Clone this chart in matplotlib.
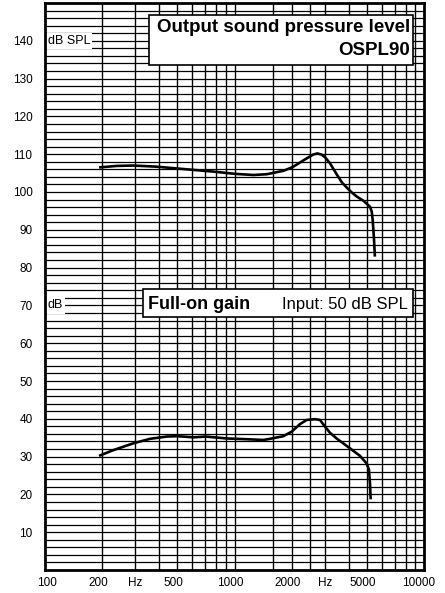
import numpy as np
import matplotlib
matplotlib.use("Agg")
import matplotlib.pyplot as plt
from matplotlib.patches import Rectangle
from matplotlib.transforms import ScaledTranslation, blended_transform_factory

# ---- data ----
ospl_freq = [193, 239, 292, 388, 559, 773, 1006, 1257, 1479, 1811, 1963, 2043, 2405,
             2600, 2735, 2880, 3004, 3191, 3458, 3680, 3906, 4150, 4418, 4782, 5188, 5300, 5361, 5450, 5506]
ospl_db = [106.5, 106.9, 107.0, 106.7, 106.0, 105.4, 104.8, 104.5, 104.7, 105.6, 106.3, 106.7, 108.9,
           109.9, 110.2, 109.9, 109.2, 107.6, 104.7, 102.6, 101.2, 99.9, 98.8, 97.7, 96.1, 94.8, 92.6, 87.3, 82.9]

gain_freq = [193, 229, 292, 358, 439, 500, 607, 705, 910, 1159, 1420, 1538, 1811, 2004,
             2216, 2405, 2661, 2827, 3006, 3191, 3458, 4065, 4592, 4982, 5125, 5188, 5232]
gain_db = [30.2, 31.7, 33.5, 34.7, 35.3, 35.4, 35.1, 35.3, 34.8, 34.6, 34.4, 34.7, 35.4, 36.6,
           38.6, 39.7, 39.9, 39.7, 37.9, 36.3, 34.8, 32.2, 30.2, 28.2, 26.5, 22.9, 18.7]

x_grid = [200, 300, 400, 500, 600, 700, 800, 900, 1000, 1600, 2000, 2500, 3000,
          4000, 5000, 6000, 7000, 8000, 9000]
x_ticks = [100, 200, 300, 500, 1000, 2000, 3000, 5000, 10000]
x_labels = ["100", "200", "Hz", "500", "1000", "2000", "Hz", "5000", "10000"]
y_ticks = list(range(10, 141, 10))
y_grid = list(range(2, 150, 2))

W, H = 445, 593
fig = plt.figure(figsize=(W / 100, H / 100), dpi=100)
plt.rcParams['font.family'] = ['Liberation Sans', 'DejaVu Sans']

L, R, T, B = 45, 424, 3, 570
ax = fig.add_axes([L / W, (H - B) / H, (R - L) / W, (B - T) / H])
ax.set_xscale('log')
ax.set_xlim(100, 10000)
ax.set_ylim(0, 150)

for yv in y_grid:
    ax.axhline(yv, color='black', lw=0.9, zorder=1)
for xv in x_grid:
    ax.axvline(xv, color='black', lw=1.0, zorder=1)

ax.plot(ospl_freq, ospl_db, color='black', lw=1.9, zorder=5, solid_capstyle='butt',
        solid_joinstyle='round')
ax.plot(gain_freq, gain_db, color='black', lw=1.9, zorder=5, solid_capstyle='butt',
        solid_joinstyle='round')

ax.set_xticks(x_ticks)
ax.set_xticklabels(x_labels, fontsize=8.5)
ax.xaxis.set_minor_locator(matplotlib.ticker.NullLocator())
ax.set_yticks(y_ticks)
ax.set_yticklabels([str(v) for v in y_ticks], fontsize=8.5)
ax.tick_params(axis='both', length=0)
ax.tick_params(axis='y', pad=9)
ax.tick_params(axis='x', pad=5)
for lab, txt in zip(ax.get_xticklabels(), x_labels):
    dx = 0 if txt == "Hz" else -4
    if txt == "100":
        dx = 2
    if txt == "10000":
        dx = -5
    lab.set_transform(lab.get_transform() + ScaledTranslation(dx / 100, 0, fig.dpi_scale_trans))

for s in ax.spines.values():
    s.set_linewidth(2.0)
    s.set_zorder(10)

def fx(px):
    return px / W

def fy(py):
    return (H - py) / H

# Output box
fig.patches.append(Rectangle((fx(149), fy(65)), (413 - 149) / W, (65 - 15) / H,
                             transform=fig.transFigure, facecolor='white',
                             edgecolor='black', lw=1.2, zorder=20))
fig.text(fx(410), fy(32), "Output sound pressure level", ha='right', va='baseline',
         fontsize=13.5, fontweight='bold', zorder=21)
fig.text(fx(410), fy(55), "OSPL90", ha='right', va='baseline',
         fontsize=13.5, fontweight='bold', zorder=21)

# Gain box
fig.patches.append(Rectangle((fx(143), fy(317)), (413 - 143) / W, (317 - 289) / H,
                             transform=fig.transFigure, facecolor='white',
                             edgecolor='black', lw=1.2, zorder=20))
fig.text(fx(147.5), fy(309), "Full-on gain", ha='left', va='baseline',
         fontsize=13, fontweight='bold', zorder=21)
fig.text(fx(408), fy(309), "Input: 50 dB SPL", ha='right', va='baseline',
         fontsize=12, zorder=21)

# unit labels
tr = blended_transform_factory(ax.transAxes, ax.transData)
ax.text(2.5 / (R - L), 140, "dB SPL", transform=tr, ha='left', va='center', fontsize=9,
        zorder=8, bbox=dict(facecolor='white', edgecolor='none', pad=1.5))
ax.text(2.5 / (R - L), 70, "dB", transform=tr, ha='left', va='center', fontsize=9,
        zorder=8, bbox=dict(facecolor='white', edgecolor='none', pad=1.5))

fig.savefig("out.png", dpi=100, facecolor='white')
